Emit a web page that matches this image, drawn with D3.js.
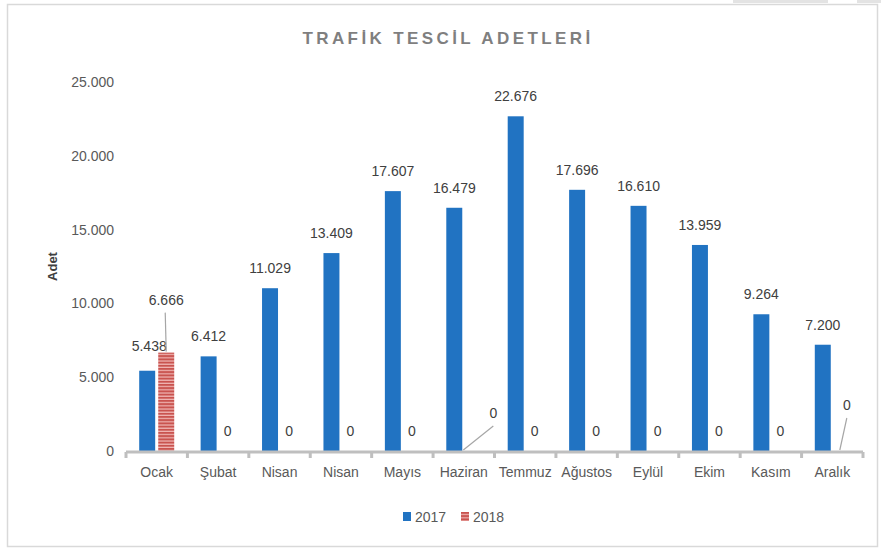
<!DOCTYPE html>
<html><head><meta charset="utf-8">
<script src="https://cdn.jsdelivr.net/npm/d3@7"></script>
<style>
body{margin:0;background:#fff;}
text{font-family:"Liberation Sans",Arial,sans-serif;}
</style></head>
<body><svg id="c" width="881" height="550"></svg>
<script>
const categories = ["Ocak","Şubat","Nisan","Nisan","Mayıs","Haziran","Temmuz","Ağustos","Eylül","Ekim","Kasım","Aralık"];
const series = ["2017","2018"];
const values2017 = [5438,6412,11029,13409,17607,16479,22676,17696,16610,13959,9264,7200];
const values2018 = [6666,0,0,0,0,0,0,0,0,0,0,0];
const yTicks = [0,5000,10000,15000,20000,25000];
const title = "TRAFİK TESCİL ADETLERİ";
const yTitle = "Adet";

const svg = d3.select("#c");
svg.append("rect").attr("x",733).attr("y",0).attr("width",95).attr("height",3).attr("fill","#e3e3e3");
svg.append("rect").attr("x",857).attr("y",0).attr("width",24).attr("height",3).attr("fill","#e3e3e3");
svg.append("rect").attr("x",7.5).attr("y",4.5).attr("width",870).attr("height",542).attr("fill","#fff").attr("stroke","#d9d9d9").attr("stroke-width",1.5);

const defs = svg.append("defs");
const pat = defs.append("pattern").attr("id","stripes").attr("patternUnits","userSpaceOnUse").attr("width",4).attr("height",3.2);
pat.append("rect").attr("width",4).attr("height",3.2).attr("fill","#f0b8b6");
pat.append("rect").attr("width",4).attr("height",2).attr("fill","#c9534f");

const pLeft=126, pRight=863, pTop=82, pBottom=451;
const x0 = d3.scaleBand().domain(d3.range(categories.length)).range([pLeft,pRight]).padding(0);
const gw = x0.bandwidth();
const x1 = d3.scaleBand().domain(series).range([gw*0.215, gw*0.785]).paddingInner(0.16);
const y = d3.scaleLinear().domain([0,25000]).range([pBottom,pTop]);

svg.append("text").attr("x",448).attr("y",44).attr("text-anchor","middle")
  .attr("font-size",17).attr("font-weight","bold").attr("fill","#7f7f7f").attr("letter-spacing",3.4).text(title);

const ya = svg.append("g").attr("transform",`translate(${pLeft-12},0)`)
  .call(d3.axisLeft(y).tickValues(yTicks).tickSize(0).tickPadding(0).tickFormat(d=>d3.format(",")(d).replace(/,/g,".")));
ya.select(".domain").remove();
ya.selectAll("text").attr("font-size",14).attr("fill","#595959").attr("font-family","Liberation Sans, Arial, sans-serif");

svg.append("text").attr("transform",`translate(57,${(pTop+pBottom)/2}) rotate(-90)`).attr("text-anchor","middle")
  .attr("font-size",13).attr("font-weight","bold").attr("fill","#404040").text(yTitle);

const data = categories.map((c,i)=>({i, c, v:[values2017[i], values2018[i]]}));

const g = svg.selectAll("g.grp").data(data).enter().append("g").attr("class","grp").attr("transform",d=>`translate(${x0(d.i)},0)`);
g.append("rect").attr("x",x1("2017")).attr("width",x1.bandwidth())
  .attr("y",d=>y(d.v[0])).attr("height",d=>pBottom-y(d.v[0])).attr("fill","#2173c2");
g.append("rect").attr("x",x1("2018")).attr("width",x1.bandwidth())
  .attr("y",d=>y(d.v[1])).attr("height",d=>pBottom-y(d.v[1])).attr("fill","url(#stripes)");

const xa = svg.append("g").attr("transform",`translate(0,${pBottom+1})`);
xa.append("line").attr("x1",pLeft).attr("x2",pRight).attr("stroke","#bfbfbf").attr("stroke-width",3);
xa.selectAll("line.t").data(d3.range(categories.length+1)).enter().append("line").attr("class","t")
  .attr("x1",i=>i<categories.length?x0(i):pRight).attr("x2",i=>i<categories.length?x0(i):pRight)
  .attr("y1",0).attr("y2",6).attr("stroke","#bfbfbf").attr("stroke-width",3);
xa.selectAll("text").data(data).enter().append("text")
  .attr("x",d=>x0(d.i)+gw/2).attr("y",25).attr("text-anchor","middle")
  .attr("font-size",14).attr("fill","#595959").text(d=>d.c);

const fmt = v=>d3.format(",")(v).replace(/,/g,".");
const lab = {0:{dx:2,dy:-5}};
g.append("text").attr("x",d=>x1("2017")+x1.bandwidth()/2+(lab[d.i]?lab[d.i].dx:0))
  .attr("y",d=>y(d.v[0])-15+(lab[d.i]?lab[d.i].dy:0)).attr("text-anchor","middle")
  .attr("font-size",14).attr("fill","#404040").text(d=>fmt(d.v[0]));
const lab2 = {0:{dx:0,dy:-30,lead:true}, 5:{dx:20,dy:-15,lead:true}, 11:{dx:5,dy:-23,lead:true}};
g.each(function(d){
  const gg = d3.select(this);
  const cx = x1("2018")+x1.bandwidth()/2;
  const base = y(d.v[1]);
  const o = lab2[d.i]||{dx:0,dy:0};
  const tx = cx+o.dx, ty = base-15+o.dy;
  if(o.lead){
    gg.append("line").attr("x1",d.i===0?cx:cx-(d.i===5?10:2)).attr("y1",base-1)
      .attr("x2",tx-(d.i===0?1:0)).attr("y2",ty+5).attr("stroke","#a6a6a6").attr("stroke-width",1.2);
  }
  gg.append("text").attr("x",tx).attr("y",ty-(o.lead?3:0)).attr("text-anchor","middle")
    .attr("font-size",14).attr("fill","#404040").text(fmt(d.v[1]));
});

const lg = svg.append("g").attr("transform","translate(403,512)");
lg.append("rect").attr("width",8).attr("height",9).attr("fill","#2173c2");
lg.append("text").attr("x",12).attr("y",10).attr("font-size",14).attr("fill","#595959").text(series[0]);
lg.append("rect").attr("x",58).attr("width",8).attr("height",9).attr("fill","url(#stripes)");
lg.append("text").attr("x",70).attr("y",10).attr("font-size",14).attr("fill","#595959").text(series[1]);
</script></body></html>
